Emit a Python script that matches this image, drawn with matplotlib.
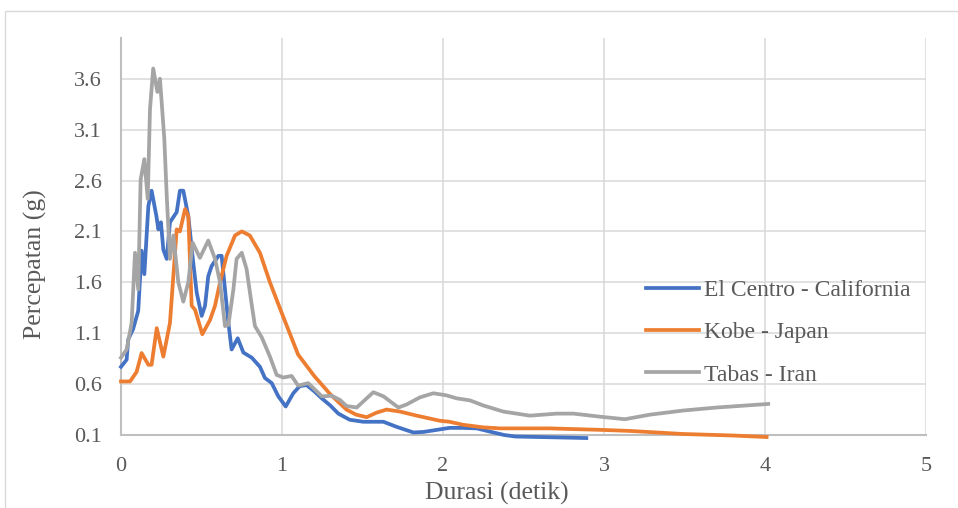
import matplotlib
matplotlib.use("Agg")
import matplotlib.pyplot as plt
from matplotlib.patches import Rectangle
from matplotlib.ticker import FixedLocator, FormatStrFormatter

# Response spectra: period (s) vs spectral acceleration (g)
elcentro_t = [0.0, 0.035, 0.045, 0.075, 0.107, 0.128, 0.145, 0.17, 0.19, 0.22,
              0.232, 0.248, 0.263, 0.284, 0.304, 0.346, 0.366, 0.387, 0.418, 0.449,
              0.470, 0.501, 0.522, 0.542, 0.563, 0.605, 0.625, 0.646, 0.667, 0.687,
              0.725, 0.76, 0.812, 0.863, 0.894, 0.936, 0.977, 1.023, 1.07, 1.11,
              1.153, 1.20, 1.247, 1.30, 1.35, 1.42, 1.505, 1.63, 1.712, 1.816,
              1.878, 1.96, 2.04, 2.12, 2.21, 2.30, 2.38, 2.45, 2.6, 2.75, 2.89]
elcentro_a = [0.77, 0.84, 1.04, 1.14, 1.32, 1.91, 1.68, 2.35, 2.50, 2.25,
              2.12, 2.19, 1.92, 1.83, 2.19, 2.29, 2.50, 2.50, 2.25, 1.79,
              1.50, 1.27, 1.37, 1.66, 1.76, 1.86, 1.86, 1.53, 1.20, 0.94,
              1.05, 0.91, 0.86, 0.77, 0.66, 0.61, 0.48, 0.38, 0.51, 0.58,
              0.59, 0.53, 0.46, 0.39, 0.31, 0.25, 0.23, 0.23, 0.18, 0.125,
              0.13, 0.15, 0.17, 0.17, 0.165, 0.13, 0.10, 0.085, 0.08, 0.075, 0.07]

kobe_t = [0.0, 0.056, 0.097, 0.128, 0.17, 0.19, 0.222, 0.263, 0.304, 0.346,
          0.366, 0.398, 0.418, 0.439, 0.46, 0.505, 0.553, 0.584, 0.615, 0.656,
          0.708, 0.75, 0.80, 0.863, 0.925, 0.998, 1.10, 1.20, 1.30, 1.40,
          1.46, 1.526, 1.588, 1.65, 1.733, 1.837, 1.98, 2.04, 2.126, 2.25,
          2.354, 2.66, 2.99, 3.16, 3.49, 3.8, 4.01]
kobe_a = [0.626, 0.626, 0.72, 0.905, 0.79, 0.79, 1.15, 0.87, 1.20, 2.12,
          2.10, 2.32, 2.25, 1.37, 1.33, 1.09, 1.23, 1.37, 1.60, 1.86,
          2.06, 2.10, 2.06, 1.89, 1.60, 1.30, 0.89, 0.68, 0.50, 0.35,
          0.30, 0.275, 0.32, 0.35, 0.33, 0.29, 0.24, 0.23, 0.20, 0.175,
          0.165, 0.165, 0.15, 0.14, 0.11, 0.095, 0.08]

tabas_t = [0.0, 0.035, 0.066, 0.087, 0.107, 0.122, 0.145, 0.166, 0.18, 0.20,
           0.226, 0.242, 0.269, 0.284, 0.304, 0.325, 0.356, 0.387, 0.418, 0.445,
           0.49, 0.542, 0.584, 0.615, 0.646, 0.667, 0.698, 0.718, 0.75, 0.78,
           0.81, 0.832, 0.874, 0.925, 0.967, 1.008, 1.06, 1.10, 1.163, 1.247,
           1.309, 1.36, 1.40, 1.464, 1.567, 1.63, 1.723, 1.774, 1.857, 1.94,
           2.02, 2.085, 2.168, 2.25, 2.375, 2.54, 2.706, 2.81, 2.975, 3.13,
           3.286, 3.49, 3.70, 4.02]
tabas_a = [0.86, 0.94, 1.20, 1.89, 1.53, 2.61, 2.81, 2.42, 3.30, 3.70,
           3.47, 3.60, 3.01, 2.45, 1.83, 2.06, 1.60, 1.41, 1.60, 1.99,
           1.84, 2.01, 1.83, 1.60, 1.17, 1.18, 1.53, 1.83, 1.89, 1.73,
           1.40, 1.17, 1.06, 0.87, 0.69, 0.665, 0.68, 0.585, 0.61, 0.48,
           0.485, 0.445, 0.385, 0.37, 0.52, 0.48, 0.37, 0.40, 0.47, 0.51,
           0.49, 0.46, 0.44, 0.39, 0.33, 0.29, 0.31, 0.31, 0.28, 0.255,
           0.30, 0.34, 0.37, 0.405]

series_labels = ["El Centro - California", "Kobe - Japan", "Tabas - Iran"]
series_colors = ["#4472C4", "#ED7D31", "#A5A5A5"]
x_ticks = [0, 1, 2, 3, 4, 5]
y_ticks = [0.1, 0.6, 1.1, 1.6, 2.1, 2.6, 3.1, 3.6]

plt.rcParams["font.family"] = ["Liberation Serif", "DejaVu Serif"]
text_color = "#595959"

W, H = 958, 508
fig = plt.figure(figsize=(W / 100, H / 100), dpi=100)
fig.patches.append(Rectangle((5 / W, -0.1), 1.2, 1 - 11 / H + 0.1,
                             transform=fig.transFigure, fill=False,
                             edgecolor="#D9D9D9", linewidth=1.0))

ax = fig.add_axes([121 / W, 1 - 435 / H, (926 - 121) / W, (435 - 38) / H])
ax.set_xlim(0, 5)
ax.set_ylim(0.1, 4.0)

for t, a, lab, col in zip([elcentro_t, kobe_t, tabas_t],
                          [elcentro_a, kobe_a, tabas_a],
                          series_labels, series_colors):
    ax.plot(t, a, color=col, linewidth=2.7, label=lab, clip_on=False,
            solid_joinstyle="round", zorder=3)

ax.xaxis.set_major_locator(FixedLocator(x_ticks))
ax.yaxis.set_major_locator(FixedLocator(y_ticks))
ax.yaxis.set_major_formatter(FormatStrFormatter("%.1f"))
ax.grid(True, color="#D9D9D9", linewidth=1.1, zorder=0)
ax.set_axisbelow(True)
for side in ("top", "right"):
    ax.spines[side].set_visible(False)
for side in ("left", "bottom"):
    ax.spines[side].set_color("#BFBFBF")
    ax.spines[side].set_linewidth(1.5)
ax.tick_params(axis="both", length=0, labelsize=16, labelcolor=text_color)
ax.tick_params(axis="x", pad=16)
ax.tick_params(axis="y", pad=14)

ax.set_xlabel("Durasi (detik)", fontsize=18.5, color=text_color)
ax.set_ylabel("Percepatan (g)", fontsize=18.5, color=text_color)
ax.xaxis.set_label_coords(496.5 / W, 1 - 482 / H, transform=fig.transFigure)
ax.yaxis.set_label_coords(47 / W, 1 - 264 / H, transform=fig.transFigure)

leg = ax.legend(loc="center left", bbox_to_anchor=(646 / W, 1 - 332.5 / H),
                bbox_transform=fig.transFigure, frameon=False, fontsize=17,
                handlelength=2.25, handletextpad=0.2, labelspacing=0.88,
                borderpad=0, borderaxespad=0)
for txt in leg.get_texts():
    txt.set_color(text_color)

fig.savefig("out.png", dpi=100)
